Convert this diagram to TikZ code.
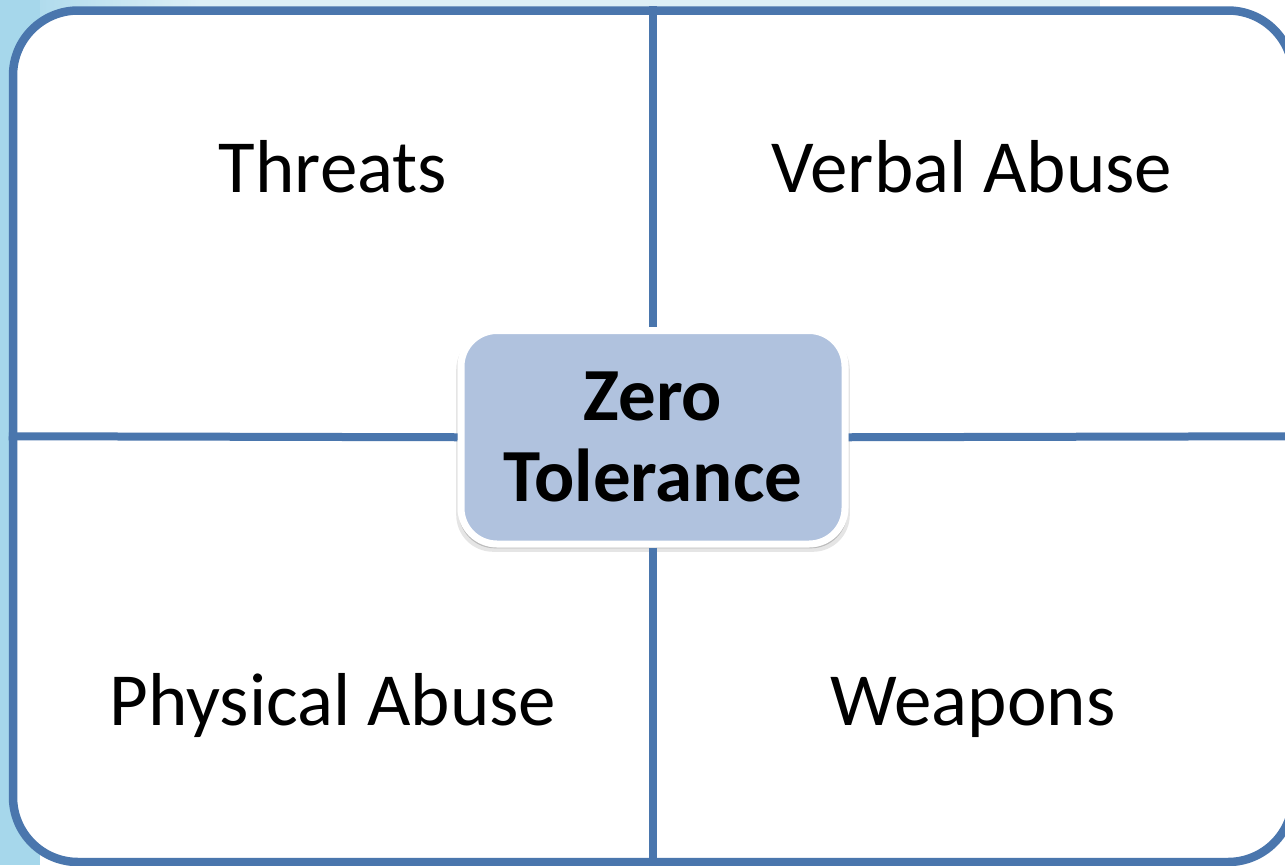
\documentclass[tikz,border=0pt]{standalone}
\usepackage{fontspec}
\setmainfont{Carlito}
\usetikzlibrary{shadows}
\definecolor{lineblue}{HTML}{4A76AD}
\definecolor{bgblue}{HTML}{A6D7EB}
\definecolor{bglight}{HTML}{DCEFF6}
\definecolor{centerfill}{HTML}{B0C2DE}
\tikzset{
  framebox/.style={draw=lineblue, line width=8.5pt, fill=white, rounded corners=65pt,
    minimum width=1280pt, minimum height=851.5pt, inner sep=0pt,
    drop shadow={shadow xshift=-3pt, shadow yshift=-3pt, opacity=0.25}},
  divider/.style={draw=lineblue, line width=8pt},
  centerbox/.style={draw=white, line width=7pt, fill=centerfill, rounded corners=36pt,
    minimum width=384pt, minimum height=213.5pt, inner sep=0pt, align=center,
    font=\fontsize{75}{81}\selectfont\bfseries,
    general shadow={shadow yshift=-5pt, shadow scale=1.025, fill=black, opacity=0.10},
    general shadow={shadow yshift=-3pt, shadow scale=1.012, fill=black, opacity=0.18}},
  quad/.style={anchor=base, inner sep=0pt, font=\fontsize{75}{90}\selectfont}
}
\begin{document}
\begin{tikzpicture}[x=1pt, y=-1pt]
\useasboundingbox (0,0) rectangle (1285,865);
\clip (0,0) rectangle (1285,865);
\fill[white] (0,0) rectangle (1285,865);
\shade[left color=bgblue, right color=bglight] (0,0) rectangle (200,40);
\fill[bglight] (200,0) rectangle (1100,40);
\fill[bgblue] (0,0) rectangle (40,865);
\node[framebox] (frame) at (653,436.25) {};
\node[centerbox] (zt) at (653,437.25) {Zero\\Tolerance};
\draw[divider] (frame.north) -- (zt.north);
\draw[divider] (zt.south) -- (frame.south);
\draw[divider] (frame.west) -- (zt.west);
\draw[divider] (zt.east) -- (frame.east);
\node[quad] (threats) at (333,192) {Threats};
\node[quad] (verbal) at (972,192) {Verbal Abuse};
\node[quad] (physical) at (333,725) {Physical Abuse};
\node[quad] (weapons) at (973,725) {Weapons};
\end{tikzpicture}
\end{document}
